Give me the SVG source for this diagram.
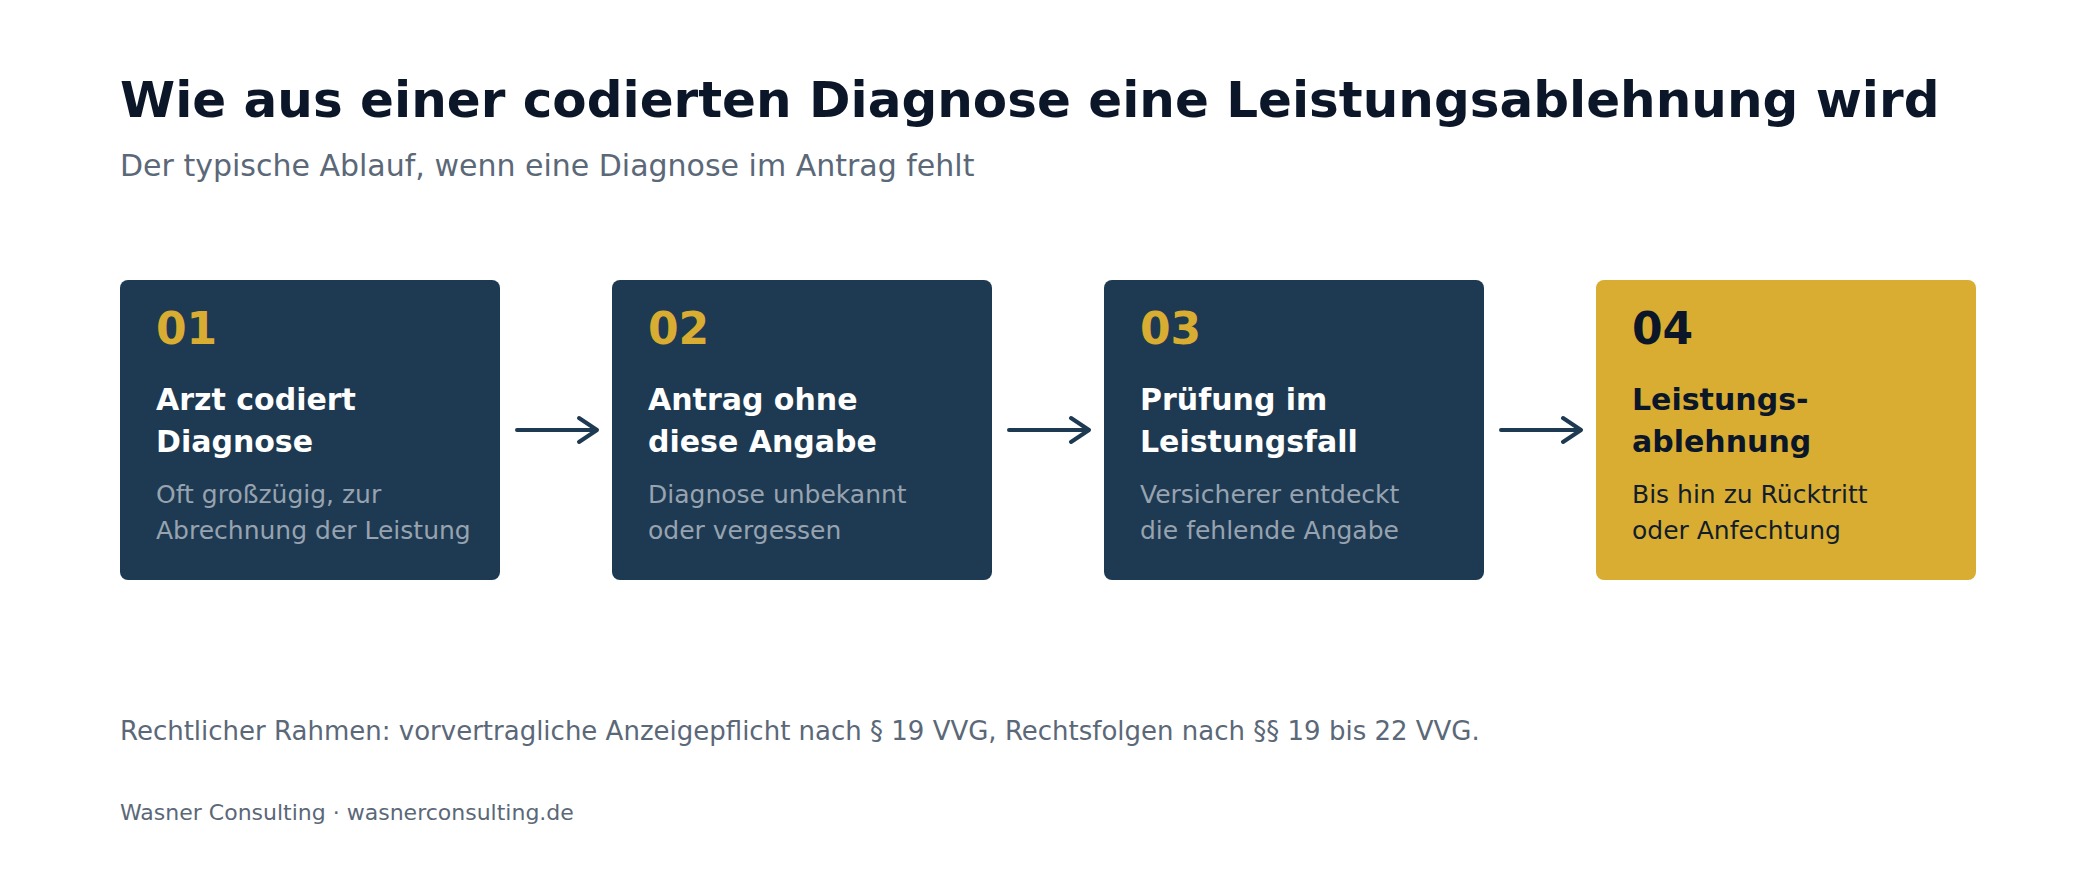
<svg xmlns="http://www.w3.org/2000/svg" width="2080" height="880" viewBox="0 0 2080 880">
<style>
text{font-family:"DejaVu Sans","Noto Sans",sans-serif}
.title{font-size:50px;font-weight:bold;fill:#0b1629}
.sub{font-size:30px;fill:#5b6878}
.num{font-size:44px;font-weight:bold;fill:#d9ad31}
.h{font-size:30px;font-weight:bold;fill:#ffffff}
.d{font-size:25px;fill:#97a3b0}
.box{fill:#1e3a52}
.gold{fill:#d9ad31}
.dark{fill:#0b1629}
.ddesc{fill:#121d2b}
.arrow{fill:none;stroke:#1e3a52;stroke-width:4;stroke-linecap:round;stroke-linejoin:round}
.foot{font-size:26px;fill:#5b6878}
.brand{font-size:22px;fill:#5b6878}
</style>
<rect width="2080" height="880" fill="#ffffff"/>
<text class="title" x="120" y="117">Wie aus einer codierten Diagnose eine Leistungsablehnung wird</text>
<text class="sub" x="120" y="176">Der typische Ablauf, wenn eine Diagnose im Antrag fehlt</text>
<g id="node1">
<rect class="box" x="120" y="280" width="380" height="300" rx="8"/>
<text class="num" x="156" y="344">01</text>
<text class="h" x="156" y="410">Arzt codiert</text>
<text class="h" x="156" y="452">Diagnose</text>
<text class="d" x="156" y="503">Oft großzügig, zur</text>
<text class="d" x="156" y="539">Abrechnung der Leistung</text>
</g>
<g id="node2">
<rect class="box" x="612" y="280" width="380" height="300" rx="8"/>
<text class="num" x="648" y="344">02</text>
<text class="h" x="648" y="410">Antrag ohne</text>
<text class="h" x="648" y="452">diese Angabe</text>
<text class="d" x="648" y="503">Diagnose unbekannt</text>
<text class="d" x="648" y="539">oder vergessen</text>
</g>
<g id="node3">
<rect class="box" x="1104" y="280" width="380" height="300" rx="8"/>
<text class="num" x="1140" y="344">03</text>
<text class="h" x="1140" y="410">Prüfung im</text>
<text class="h" x="1140" y="452">Leistungsfall</text>
<text class="d" x="1140" y="503">Versicherer entdeckt</text>
<text class="d" x="1140" y="539">die fehlende Angabe</text>
</g>
<g id="node4">
<rect class="gold" x="1596" y="280" width="380" height="300" rx="8"/>
<text class="num dark" x="1632" y="344">04</text>
<text class="h dark" x="1632" y="410">Leistungs-</text>
<text class="h dark" x="1632" y="452">ablehnung</text>
<text class="d ddesc" x="1632" y="503">Bis hin zu Rücktritt</text>
<text class="d ddesc" x="1632" y="539">oder Anfechtung</text>
</g>
<g id="connectors">
<path class="arrow" d="M517 430H597M579 418L597 430L579 442"/>
<path class="arrow" d="M1009 430H1089M1071 418L1089 430L1071 442"/>
<path class="arrow" d="M1501 430H1581M1563 418L1581 430L1563 442"/>
</g>
<text class="foot" x="120" y="740">Rechtlicher Rahmen: vorvertragliche Anzeigepflicht nach § 19 VVG, Rechtsfolgen nach §§ 19 bis 22 VVG.</text>
<text class="brand" x="120" y="820">Wasner Consulting · wasnerconsulting.de</text>
</svg>
